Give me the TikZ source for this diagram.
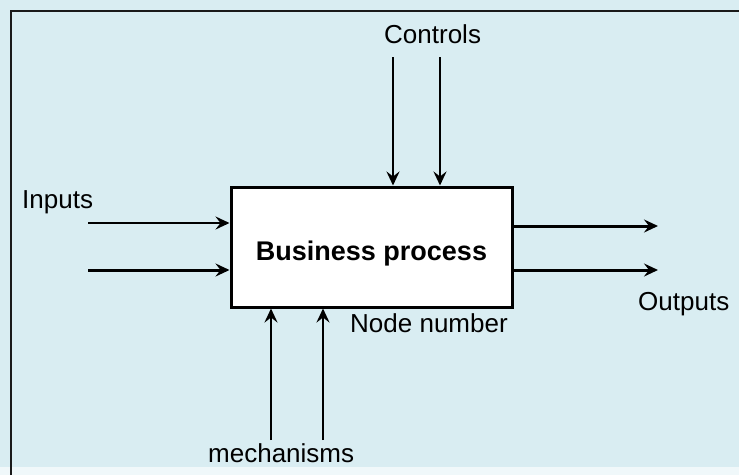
\documentclass[tikz,border=0pt]{standalone}
\usepackage{fontspec}
\setmainfont{Liberation Sans}
\usetikzlibrary{arrows.meta}
\definecolor{bgblue}{HTML}{D9EDF2}
\definecolor{framec}{HTML}{1A1A1A}
\tikzset{
  lbl/.style={inner sep=0pt, anchor=base west, font=\fontsize{26}{30}\selectfont},
  flow/.style={draw=black, line width=#1, -{Stealth[length=14pt, width=13pt, inset=5pt]}},
  flow/.default=2pt,
  procbox/.style={draw=black, line width=3pt, fill=white, minimum width=281pt, minimum height=120pt, inner sep=0pt}
}
\begin{document}
\begin{tikzpicture}[x=1pt, y=-1pt]
\useasboundingbox (0,0) rectangle (739,475);
\fill[bgblue] (0,0) rectangle (739,475);
\fill[white!60!bgblue] (0,467) rectangle (739,475);
\draw[framec, line width=2pt] (11,475) -- (11,10.5) -- (739,10.5);

\node[procbox] (bp) at (371.5,247) {};
\node[inner sep=0pt, anchor=base, font=\fontsize{27}{32}\selectfont\bfseries] (bptext) at (371.5,260) {Business process};

% controls
\node[lbl] (ctl) at (384,43) {Controls};
\coordinate (c1) at (393,57);
\coordinate (c2) at (440,57);
\draw[flow=2pt] (c1) -- (c1 |- bp.north);
\draw[flow=2.8pt] (c2) -- (c2 |- bp.north);

% inputs
\node[lbl] (inp) at (22,208) {Inputs};
\coordinate (i1) at (88,223);
\coordinate (i2) at (88,270);
\draw[flow=2pt] (i1) -- (i1 -| bp.west);
\draw[flow=3pt] (i2) -- (i2 -| bp.west);

% outputs
\coordinate (o1) at (658,226);
\coordinate (o2) at (658,270);
\draw[flow=3pt] (o1 -| bp.east) -- (o1);
\draw[flow=3pt] (o2 -| bp.east) -- (o2);
\node[lbl] (outp) at (638,310) {Outputs};

% mechanisms
\coordinate (m1) at (271,440);
\coordinate (m2) at (323,440);
\draw[flow=2.6pt] (m1) -- (m1 |- bp.south);
\draw[flow=2.6pt] (m2) -- (m2 |- bp.south);
\node[lbl] (mech) at (208,462) {mechanisms};
\node[lbl] (nn) at (350,332) {Node number};
\end{tikzpicture}
\end{document}
